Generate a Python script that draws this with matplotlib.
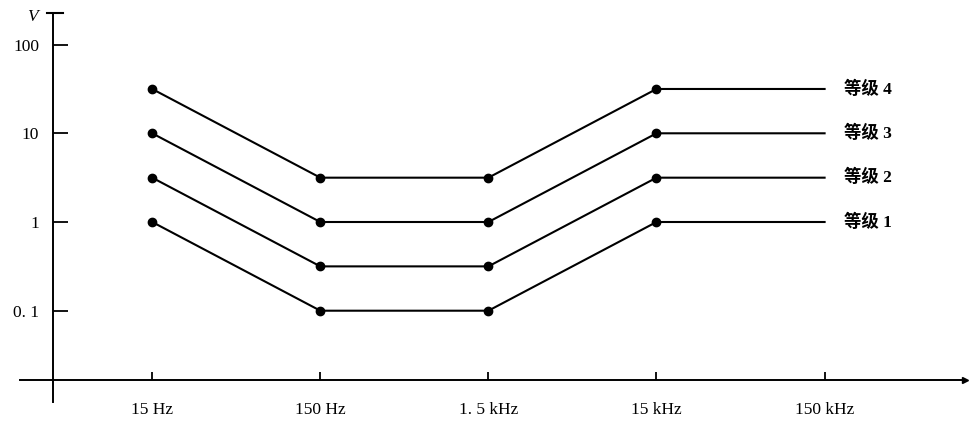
import numpy as np
import matplotlib.pyplot as plt

plt.rcParams['font.family'] = ['Liberation Serif', 'Noto Sans CJK SC']

freqs = [15, 150, 1500, 15000, 150000]
freq_labels = ['15 Hz', '150 Hz', '1. 5 kHz', '15 kHz', '150 kHz']
level1 = [1, 0.1, 0.1, 1, 1]
level2 = [3.16, 0.316, 0.316, 3.16, 3.16]
level3 = [10, 1, 1, 10, 10]
level4 = [31.6, 3.16, 3.16, 31.6, 31.6]
levels = [level1, level2, level3, level4]
level_names = ['等级 1', '等级 2', '等级 3', '等级 4']
yticks = [0.1, 1, 10, 100]
ytick_labels = ['0. 1', '1', '10', '100']

W, H = 969, 426
fig = plt.figure(figsize=(W / 100, H / 100), dpi=100)
ax = fig.add_axes([20 / W, 24 / H, 945 / W, 389 / H])
ax.set_xscale('log')
ax.set_yscale('log')

# pixel -> data mapping
px_per_dec_x = 168.1
x0 = np.log10(15) - (488.4 - 20) / px_per_dec_x + 2
x1 = np.log10(15) + (965 - 488.4) / px_per_dec_x + 2
px_per_dec_y = 88.7
y_top = (222 - 13) / px_per_dec_y
y_bot = -(402 - 222) / px_per_dec_y
ax.set_xlim(10 ** x0, 10 ** x1)
ax.set_ylim(10 ** y_bot, 10 ** y_top)

x_axis_y = 10 ** (-(380 - 222) / px_per_dec_y)
y_axis_x = 10 ** (x0 + (53 - 20) / px_per_dec_x)

for s in ['top', 'right']:
    ax.spines[s].set_visible(False)
ax.spines['left'].set_position(('data', y_axis_x))
ax.spines['bottom'].set_position(('data', x_axis_y))
ax.spines['left'].set_linewidth(1.4)
ax.spines['bottom'].set_linewidth(1.4)

ax.set_xticks(freqs)
ax.set_xticklabels(freq_labels)
ax.set_yticks(yticks)
ax.set_yticklabels(ytick_labels)
ax.minorticks_off()
ax.tick_params(axis='x', direction='in', length=6, width=1.3, pad=16, labelsize=12.5)
ax.tick_params(axis='y', direction='in', length=11, width=1.3, pad=10, labelsize=12.5)

for vals, name in zip(levels, level_names):
    ax.plot(freqs, vals, color='black', lw=1.5, marker='o', ms=6,
            markevery=[0, 1, 2, 3], clip_on=False)
    ax.annotate(name, xy=(freqs[-1], vals[-1]), xytext=(14, 0),
                textcoords='offset points', va='center', ha='left',
                fontsize=12.5, fontweight='bold')

# arrow at the end of the x axis
ax.plot(1, x_axis_y, '>k', ms=5, transform=ax.get_yaxis_transform(), clip_on=False)
# bar at the top of the y axis
fig.add_artist(plt.Line2D([47 / W, 63 / W], [1 - 13 / H, 1 - 13 / H],
                          color='black', lw=1.5))
fig.text(32 / W, 1 - 17 / H, 'V', ha='center', va='center',
         fontsize=12.5, style='italic')

fig.savefig('out.png', dpi=100)
